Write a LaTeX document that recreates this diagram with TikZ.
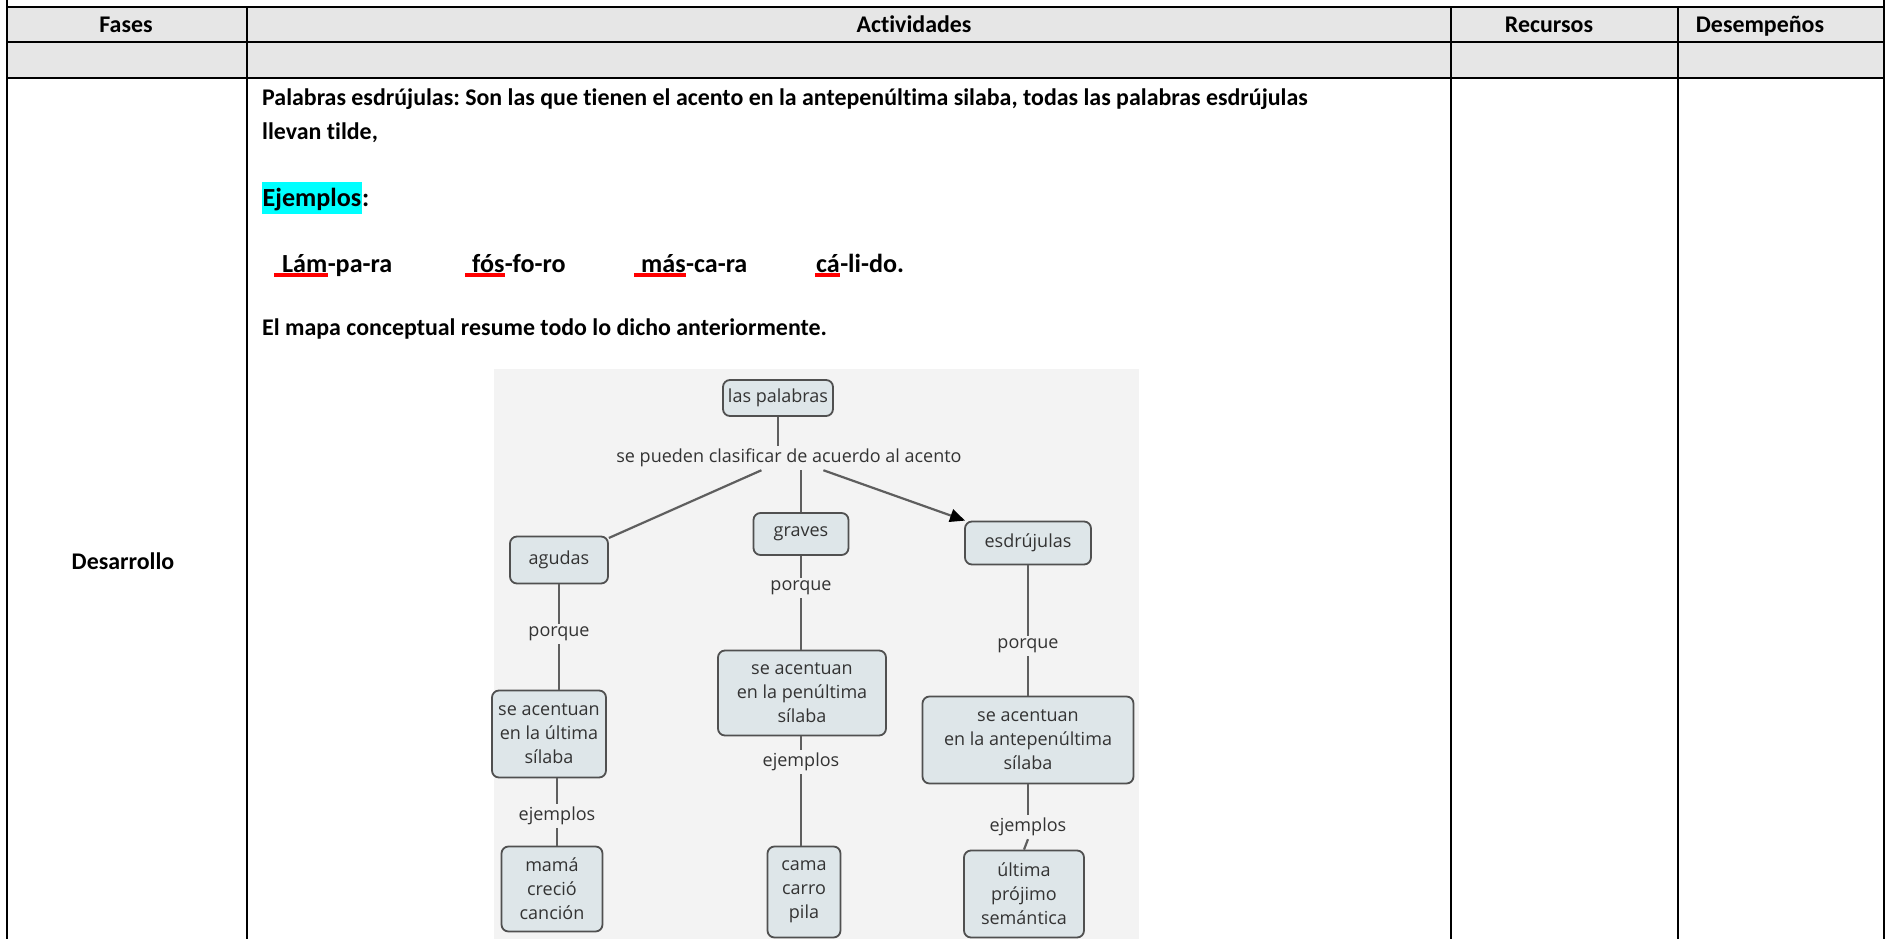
\documentclass[tikz,border=0pt]{standalone}
\usepackage{fontspec}
\setmainfont{Carlito}[Ligatures=NoCommon]
\newfontfamily\mapfont{Open Sans}
\usetikzlibrary{arrows.meta}
\frenchspacing
\definecolor{hdrgray}{HTML}{E6E6E6}
\definecolor{mapbg}{HTML}{F3F3F3}
\definecolor{boxfill}{HTML}{DEE6E9}
\definecolor{boxline}{HTML}{505050}
\definecolor{mapline}{HTML}{5E5E5E}
\definecolor{maptext}{HTML}{333333}
\definecolor{hl}{HTML}{00FFFF}
\definecolor{ulred}{HTML}{FF0000}
\begin{document}
\begin{tikzpicture}[x=1pt,y=-1pt,
  tbl/.style={line width=2.6pt, black},
  hdr/.style={font=\bfseries\fontsize{23.9}{28}\selectfont, anchor=base, inner sep=0},
  body/.style={font=\bfseries\fontsize{23.9}{28}\selectfont, anchor=base west, inner sep=0},
  bodyl/.style={font=\bfseries\fontsize{26.1}{30}\selectfont, anchor=base west, inner sep=0},
  cbox/.style={draw=boxline, fill=boxfill, line width=1.8pt, rounded corners=7pt, align=center, font=\mapfont\fontsize{18}{24}\selectfont, text=maptext, inner sep=2pt},
  clab/.style={font=\mapfont\fontsize{18}{24}\selectfont, text=maptext, inner xsep=4pt, inner ysep=3pt},
  cline/.style={draw=mapline, line width=2.2pt},
  redul/.style={draw=ulred, line width=4pt},
]
\useasboundingbox (0,0) rectangle (1891,939);
\fill[white] (0,0) rectangle (1891,939);
\fill[hdrgray] (7,7) rectangle (1884,78);
% table rules
\draw[tbl] (7,0) -- (7,939);
\draw[tbl] (1884,0) -- (1884,939);
\draw[tbl] (7,7) -- (1884,7);
\draw[tbl] (7,42) -- (1884,42);
\draw[tbl] (7,78) -- (1884,78);
\draw[tbl] (247,7) -- (247,939);
\draw[tbl] (1451,7) -- (1451,939);
\draw[tbl] (1678,7) -- (1678,939);
% header
\node[hdr] (hfases) at (126,33) {Fases};
\node[hdr] (hact) at (914,33) {Actividades};
\node[hdr] (hrec) at (1549,33) {Recursos};
\node[hdr] (hdes) at (1760,33) {Desempeños};
\node[hdr] (desa) at (123,569) {Desarrollo};
% body text
\node[body] (t1) at (262,106) {Palabras esdrújulas: Son las que tienen el acento en la antepenúltima silaba, todas las palabras esdrújulas};
\node[body] (t2) at (262,140) {llevan tilde,};
\node[bodyl, fill=hl, inner xsep=0.5pt, inner ysep=0pt, text depth=7pt, text height=25pt] (ej) at (262,207) {Ejemplos};
\node[bodyl] (ejc) at (ej.base east) {:};
% examples
\node[bodyl] (s1) at (282,272) {Lám};
\node[bodyl] (r1) at (s1.base east) {-pa-ra};
\node[bodyl] (s2) at (472,272) {fós};
\node[bodyl] (r2) at (s2.base east) {-fo-ro};
\node[bodyl] (s3) at (641,272) {más};
\node[bodyl] (r3) at (s3.base east) {-ca-ra};
\node[bodyl] (s4) at (816,272) {cá};
\node[bodyl] (r4) at (s4.base east) {-li-do.};
\draw[redul] ([xshift=-8pt,yshift=-3pt]s1.base west) -- ([yshift=-3pt]s1.base east);
\draw[redul] ([xshift=-7pt,yshift=-3pt]s2.base west) -- ([yshift=-3pt]s2.base east);
\draw[redul] ([xshift=-7pt,yshift=-3pt]s3.base west) -- ([yshift=-3pt]s3.base east);
\draw[redul] ([xshift=-1pt,yshift=-3pt]s4.base west) -- ([yshift=-3pt]s4.base east);
\node[body] (t5) at (262,335) {El mapa conceptual resume todo lo dicho anteriormente.};
% concept map
\fill[mapbg] (494,369) rectangle (1139,939);
\node[cbox, minimum width=110pt, minimum height=36pt] (pal) at (778,398) {las palabras};
\node[clab] (lab0) at (789,458) {se pueden clasificar de acuerdo al acento};
\node[cbox, minimum width=98pt, minimum height=47pt] (agu) at (559,560) {agudas};
\node[cbox, minimum width=95pt, minimum height=42pt] (gra) at (801,534) {graves};
\node[cbox, minimum width=126pt, minimum height=43pt] (esd) at (1028,543) {esdrújulas};
\node[clab] (por1) at (559,634) {porque};
\node[clab] (por2) at (801,588) {porque};
\node[clab] (por3) at (1028,646) {porque};
\node[cbox, minimum width=114pt, minimum height=87pt] (ult) at (549,734) {se acentuan\\en la última\\sílaba};
\node[cbox, minimum width=168pt, minimum height=85pt] (pen) at (802,693) {se acentuan\\en la penúltima\\sílaba};
\node[cbox, minimum width=211pt, minimum height=87pt] (ante) at (1028,740) {se acentuan\\en la antepenúltima\\sílaba};
\node[clab] (ej1) at (557,816) {ejemplos};
\node[clab] (ej2) at (801,762) {ejemplos};
\node[clab] (ej3) at (1028,827) {ejemplos};
\node[cbox, minimum width=101pt, minimum height=85pt] (ex1) at (552,889) {mamá\\creció\\canción};
\node[cbox, minimum width=73pt, minimum height=91pt] (ex2) at (804,892) {cama\\carro\\pila};
\node[cbox, minimum width=120pt, minimum height=87pt] (ex3) at (1024,894) {última\\prójimo\\semántica};
% connectors
\draw[cline] (pal.south) -- (pal.south |- lab0.north);
\draw[cline] (lab0) -- (agu);
\draw[cline] (lab0.south -| gra.north) -- (gra.north);
\draw[cline, -{Triangle[length=15pt,width=13pt,fill=black,color=black]}] (lab0) -- (esd);
\draw[cline] (agu.south) -- (agu.south |- por1.north);
\draw[cline] (por1.south) -- (por1.south |- ult.north);
\draw[cline] (gra.south) -- (gra.south |- por2.north);
\draw[cline] (por2.south) -- (por2.south |- pen.north);
\draw[cline] (esd.south) -- (esd.south |- por3.north);
\draw[cline] (por3.south) -- (por3.south |- ante.north);
\draw[cline] (ult.south -| ej1.north) -- (ej1.north);
\draw[cline] (ej1.south) -- (ej1.south |- ex1.north);
\draw[cline] (pen.south -| ej2.north) -- (ej2.north);
\draw[cline] (ej2.south) -- (ej2.south |- ex2.north);
\draw[cline] (ante.south -| ej3.north) -- (ej3.north);
\draw[cline] (ej3.south) -- (ex3.north);
\end{tikzpicture}
\end{document}
